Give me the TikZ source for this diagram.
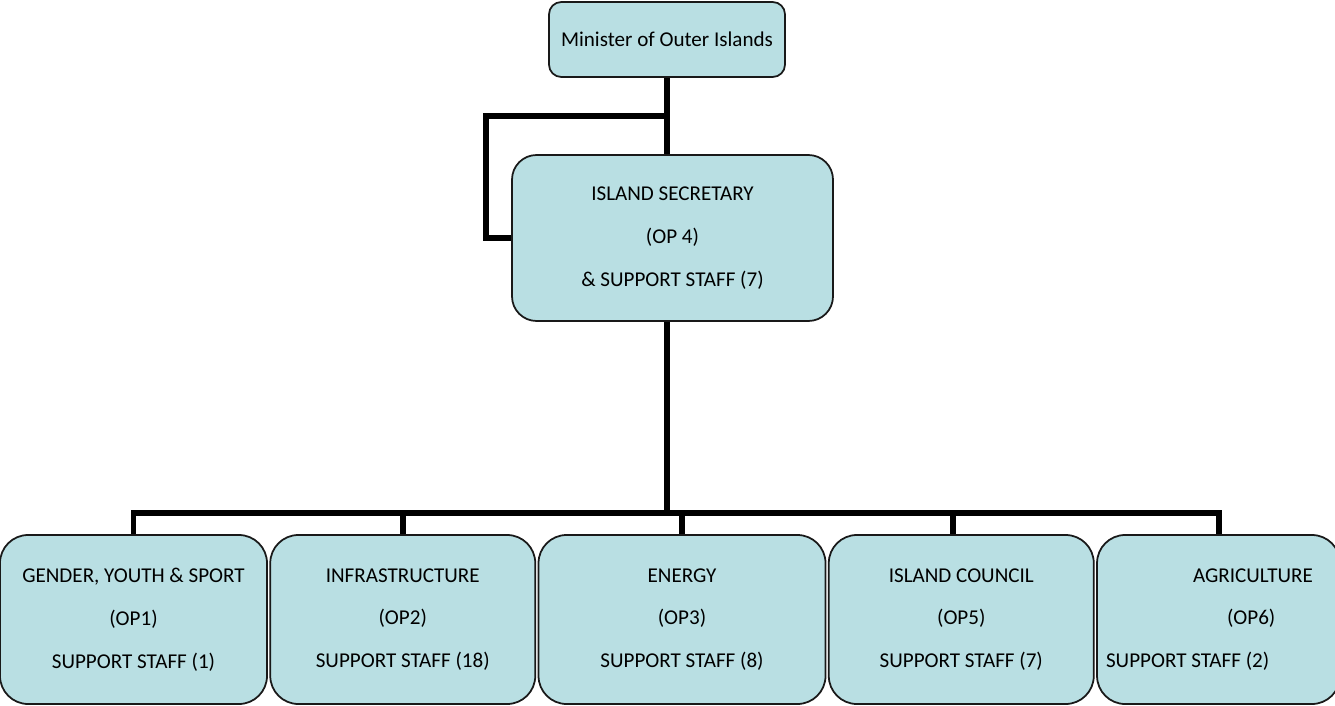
\documentclass[tikz,border=0pt]{standalone}
\usepackage{fontspec}
\setmainfont{Carlito}
\usetikzlibrary{positioning}
\definecolor{figCeleste}{RGB}{185,223,227}
\definecolor{figBorde}{RGB}{25,25,25}
\tikzset{
  caja/.style={
    rectangle, rounded corners=7pt, draw=figBorde, line width=1pt,
    fill=figCeleste, align=center, inner sep=3pt,
    font=\fontsize{12}{24.4}\selectfont
  },
  cajasec/.style={caja, rounded corners=14pt, minimum width=6.42cm, minimum height=3.32cm},
  cajadep/.style={caja, rounded corners=16pt, minimum width=5.3cm, minimum height=3.38cm},
  linea/.style={line width=3.4pt, draw=black}
}

\begin{document}
\begin{tikzpicture}[node distance=0.6cm and 0.03cm]
  \useasboundingbox (0,0) rectangle (26.7,-14.12);
  % cabeza y secretaria
  \node[caja, minimum width=4.72cm, minimum height=1.5cm] (min) at (13.34,-0.79) {Minister of Outer Islands};
  \node[cajasec] (sec) at (13.45,-4.76) {ISLAND SECRETARY\\(OP 4)\\\& SUPPORT STAFF (7)};
  % departamentos
  \node[cajadep, minimum width=5.34cm] (g1) at (2.67,-12.39) {GENDER, YOUTH \& SPORT\\(OP1)\\SUPPORT STAFF (1)};
  \node[cajadep, right=of g1] (g2) {INFRASTRUCTURE\\(OP2)\\SUPPORT STAFF (18)};
  \node[cajadep, right=of g2, minimum width=5.74cm] (g3) {ENERGY\\(OP3)\\SUPPORT STAFF (8)};
  \node[cajadep, right=of g3] (g4) {ISLAND COUNCIL\\(OP5)\\SUPPORT STAFF (7)};
  \node[cajadep, right=of g4, minimum width=4.86cm, align=flush left, text width=4.5cm, inner xsep=0.18cm] (g5)
    {\hspace*{1.74cm}AGRICULTURE\\\hspace*{2.42cm}(OP6)\\SUPPORT STAFF (2)};
  \coordinate (brk) at (13.34,-2.32);
  \coordinate (bus) at (13.34,-10.26);
  % lineas
  \draw[linea] (min.south) -- (min.south |- sec.north);
  \draw[linea] (brk) -| ([xshift=-0.5cm]sec.west) -- (sec.west);
  \draw[linea] (sec.south -| min.south) -- (bus);
  \draw[linea] (g1.north) |- (g5.north |- bus) -- (g5.north);
  \foreach \n/\dx in {g2/0,g3/0,g4/-0.17}
    \draw[linea] ([xshift=\dx cm]\n.north |- bus) -- ([xshift=\dx cm]\n.north);
\end{tikzpicture}
\end{document}
